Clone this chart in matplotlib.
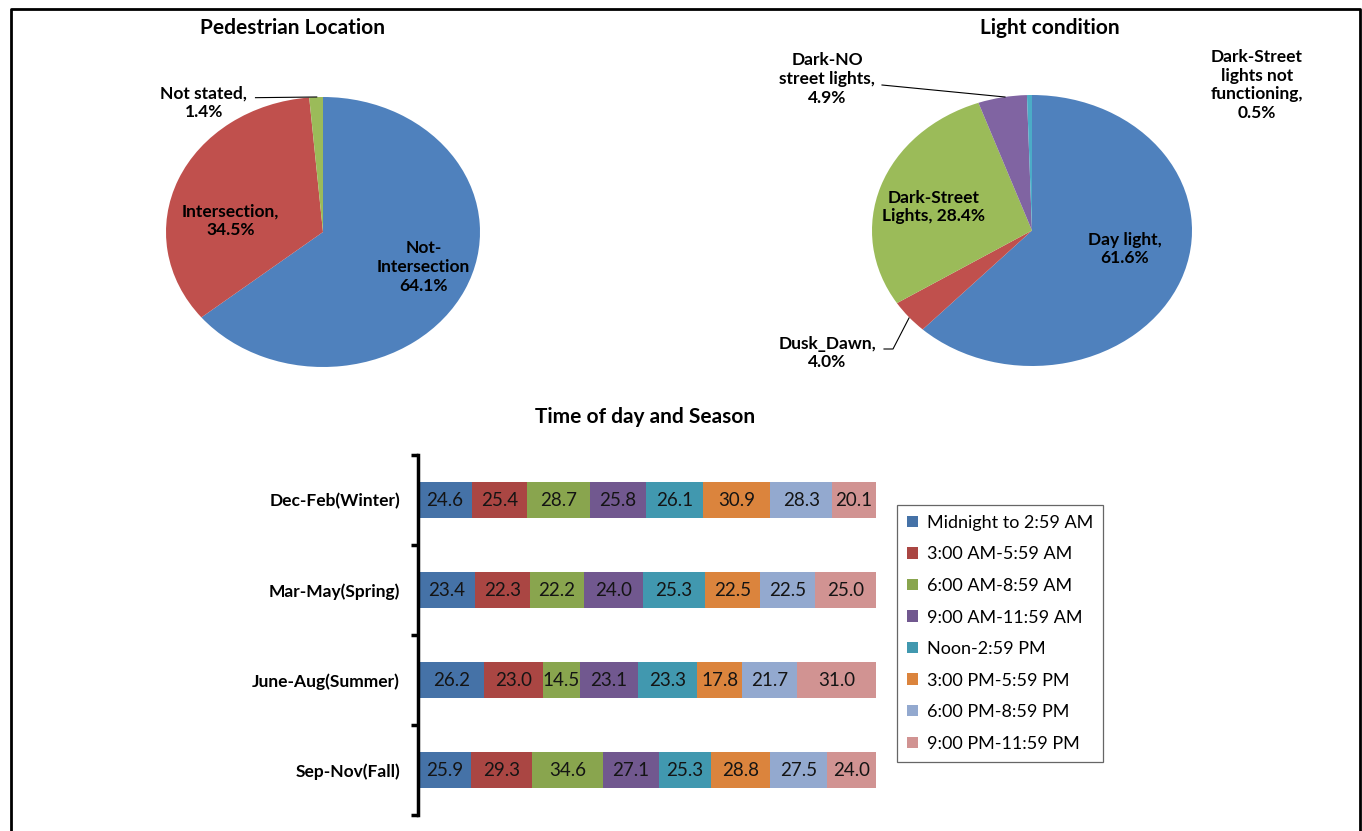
import matplotlib
matplotlib.use('Agg')
import matplotlib.pyplot as plt
from matplotlib.lines import Line2D
from matplotlib.patches import Patch
import numpy as np

plt.rcParams['font.family'] = ['Lato', 'DejaVu Sans']

W, H = 1362, 831

# ---- data ----
loc_values = [64.1, 34.5, 1.4]
loc_text = ['Not-\nIntersection\n{:.1f}%', 'Intersection,\n{:.1f}%', 'Not stated,\n{:.1f}%']
loc_colors = ['#4F81BD', '#C0504D', '#9BBB59']

light_values = [61.6, 4.0, 28.4, 4.9, 0.5]
light_text = ['Day light,\n{:.1f}%', 'Dusk_Dawn,\n{:.1f}%', 'Dark-Street\nLights, {:.1f}%',
              'Dark-NO\nstreet lights,\n{:.1f}%', 'Dark-Street\nlights not\nfunctioning,\n{:.1f}%']
light_colors = ['#4F81BD', '#C0504D', '#9BBB59', '#8064A2', '#4BACC6']

seasons = ['Dec-Feb(Winter)', 'Mar-May(Spring)', 'June-Aug(Summer)', 'Sep-Nov(Fall)']
time_bins = ['Midnight to 2:59 AM', '3:00 AM-5:59 AM', '6:00 AM-8:59 AM', '9:00 AM-11:59 AM',
             'Noon-2:59 PM', '3:00 PM-5:59 PM', '6:00 PM-8:59 PM', '9:00 PM-11:59 PM']
winter = [24.6, 25.4, 28.7, 25.8, 26.1, 30.9, 28.3, 20.1]
spring = [23.4, 22.3, 22.2, 24.0, 25.3, 22.5, 22.5, 25.0]
summer = [26.2, 23.0, 14.5, 23.1, 23.3, 17.8, 21.7, 31.0]
fall = [25.9, 29.3, 34.6, 27.1, 25.3, 28.8, 27.5, 24.0]
bar_colors = ['#4572A7', '#AA4643', '#89A54E', '#71588F', '#4198AF', '#DB843D', '#93A9CF', '#D19392']


def px_axes(fig, x0, y0, x1, y1):
    # pixel box (top-left origin) -> figure axes
    return fig.add_axes([x0 / W, 1 - y1 / H, (x1 - x0) / W, (y1 - y0) / H])


def pie_axes(fig, cx, cy, rx, ry, k=1.3):
    return px_axes(fig, cx - rx * k, cy - ry * k, cx + rx * k, cy + ry * k)


fig = plt.figure(figsize=(W / 100, H / 100), dpi=100)
fig.patch.set_facecolor('white')

# outer frame (no bottom edge visible)
fig.add_artist(Line2D([11 / W, 11 / W, 1360 / W, 1360 / W], [0, 1 - 8.5 / H, 1 - 8.5 / H, 0],
                      transform=fig.transFigure, color='black', lw=2))

lbl_font = dict(fontsize=12.5, fontweight='bold', ha='center', va='center',
                multialignment='center', linespacing=1.2)
title_font = dict(fontsize=15, fontweight='bold', ha='center', va='center')

# ---- pie 1 ----
ax1 = pie_axes(fig, 323, 232, 157, 135)
ax1.pie(loc_values, colors=loc_colors, startangle=90, counterclock=False,
        wedgeprops=dict(linewidth=0))
ax1.set_aspect('auto')
ax1.set_xlim(-1.3, 1.3)
ax1.set_ylim(-1.3, 1.3)
ax1.axis('off')
ax1.text(0.64, -0.26, loc_text[0].format(loc_values[0]), **lbl_font)
ax1.text(-0.59, 0.08, loc_text[1].format(loc_values[1]), **lbl_font)
ax1.text(-0.76, 0.96, loc_text[2].format(loc_values[2]), **lbl_font)
ax1.plot([-0.43, -0.04], [0.995, 1.0], color='black', lw=0.8)
fig.text(292 / W, 1 - 28 / H, 'Pedestrian Location', **title_font)

# ---- pie 2 ----
ax2 = pie_axes(fig, 1032, 230.5, 160, 135.5)
ax2.pie(light_values, colors=light_colors, startangle=90, counterclock=False,
        wedgeprops=dict(linewidth=0))
ax2.set_aspect('auto')
ax2.set_xlim(-1.3, 1.3)
ax2.set_ylim(-1.3, 1.3)
ax2.axis('off')


def to2(px, py):
    return (px - 1032) / 160, (230.5 - py) / 135.5


for i, (px, py) in enumerate([(1125, 249), (827, 353), (934, 207), (827, 79), (1257, 85)]):
    x, y = to2(px, py)
    ax2.text(x, y, light_text[i].format(light_values[i]), **lbl_font)
# leader lines
lx, ly = zip(*[to2(882, 85), to2(1005, 97)])
ax2.plot(lx, ly, color='black', lw=0.8)
lx, ly = zip(*[to2(884, 349), to2(893, 349), to2(909, 318)])
ax2.plot(lx, ly, color='black', lw=0.8)
fig.text(1050 / W, 1 - 28 / H, 'Light condition', **title_font)

# ---- stacked 100% bar ----
ax3 = px_axes(fig, 418, 455, 876, 815)
rows = np.array([winter, spring, summer, fall])
pct = rows / rows.sum(axis=1, keepdims=True) * 100
ypos = np.arange(len(seasons))
left = np.zeros(len(seasons))
for j in range(len(time_bins)):
    ax3.barh(ypos, pct[:, j], left=left, height=0.4, color=bar_colors[j],
             label=time_bins[j], linewidth=0)
    for i in range(len(seasons)):
        ax3.text(left[i] + pct[i, j] / 2, ypos[i], '{:.1f}'.format(rows[i, j]),
                 ha='center', va='center', fontsize=13.5, color='#141414')
    left += pct[:, j]

ax3.set_xlim(0, 100)
ax3.set_ylim(len(seasons) - 0.5, -0.5)
for s in ['top', 'right', 'bottom']:
    ax3.spines[s].set_visible(False)
ax3.spines['left'].set_linewidth(2.5)
ax3.set_xticks([])
ax3.set_yticks(ypos)
ax3.set_yticklabels(seasons, fontsize=12.5, fontweight='bold')
ax3.tick_params(axis='y', which='major', length=0, pad=13)
ax3.set_yticks(np.arange(-0.5, len(seasons)), minor=True)
ax3.tick_params(axis='y', which='minor', length=5, width=2.5, direction='out')

fig.text(645 / W, 1 - 417 / H, 'Time of day and Season', **title_font)

handles = [Patch(facecolor=c, edgecolor='none') for c in bar_colors]
leg = fig.legend(handles, time_bins, loc='upper left', bbox_to_anchor=(897 / W, 1 - 505 / H),
                 fontsize=13, frameon=True, fancybox=False, handlelength=0.6, handleheight=0.6,
                 handletextpad=0.5, labelspacing=0.86, borderpad=0.55, borderaxespad=0)
leg.get_frame().set_edgecolor('#404040')
leg.get_frame().set_linewidth(0.9)

fig.savefig('out.png', dpi=100)
